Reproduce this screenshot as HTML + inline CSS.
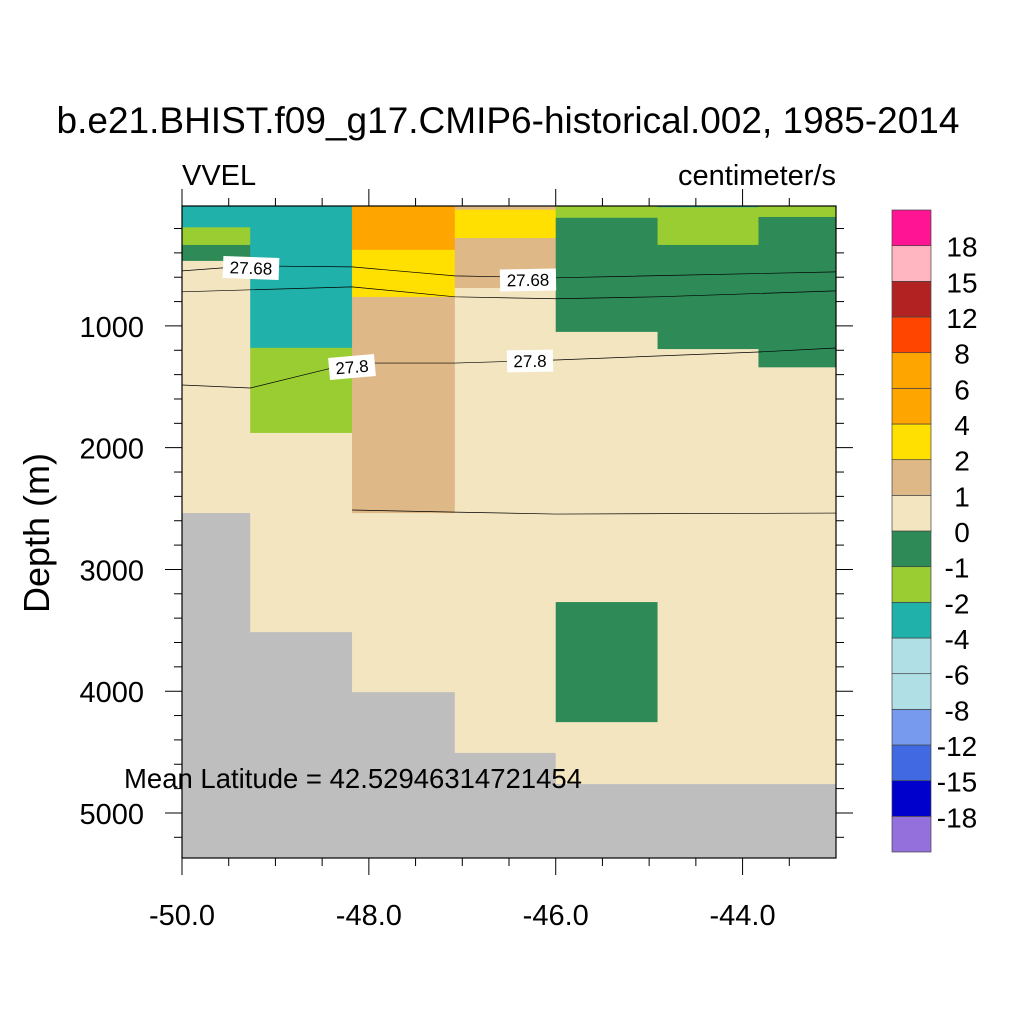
<!DOCTYPE html>
<html><head><meta charset="utf-8"><style>
body{margin:0;background:#fff}
svg text{font-family:"Liberation Sans",sans-serif;fill:#000}
</style></head><body>
<svg id="c" width="1024" height="1024" viewBox="0 0 1024 1024">
<rect width="1024" height="1024" fill="#fff"/>
<text x="508" y="133" font-size="37" text-anchor="middle">b.e21.BHIST.f09_g17.CMIP6-historical.002, 1985-2014</text>
<text x="182" y="185" font-size="29">VVEL</text>
<text x="836" y="185" font-size="29" text-anchor="end">centimeter/s</text>
<g id="cells"></g><g id="contours"></g><g id="axes"></g><g id="cbar"></g>
<text x="0" y="0" font-size="36" text-anchor="middle" transform="translate(49,533) rotate(-90)">Depth (m)</text>
<text x="124" y="788" font-size="27.5">Mean Latitude = 42.52946314721454</text>
</svg>
<script>
const NS='http://www.w3.org/2000/svg';
const colors=['#9370db','#0000cd','#4169e1','#7799ee','#b0dfe6','#b0dfe6','#20b2aa','#9acd32','#2e8b57','#f3e5bf','#deb887','#ffe000','#ffa500','#ffa500','#ff4500','#b22222','#ffb6c1','#ff1493'];
const cbLabels=['-18','-15','-12','-8','-6','-4','-2','-1','0','1','2','4','6','8','12','15','18'];
const colEdges=[-50,-49.27,-48.18,-47.08,-46.0,-44.91,-43.83,-43.0];
// per column: layer bottoms (m) and color index (into colors); -1 = land
const colBottoms=[[190,335,466,2537,5400],[1180,1879,3515,5400],[375,762,2537,4008,5400],[45,278,688,4507,5400],[112,1049,3268,4254,4763,5400],[25,335,1190,4763,5400],[105,1340,4763,5400]];
const colColors=[[6,7,8,9,-1],[6,7,9,-1],[12,11,10,9,-1],[10,11,10,9,-1],[7,8,9,8,9,-1],[6,7,8,9,-1],[7,8,9,-1]];
const contourLevels=['27.68','','27.8',''];
const contourLons=[[-50,-49.27,-48.18,-47.08,-46,-43],[-50,-48.18,-47.08,-46,-44.91,-43],[-50,-49.27,-48.18,-47.08,-46,-43.83,-43],[-48.18,-47.08,-46,-43]];
const contourDepths=[[548,507,515,589,605,556],[720,679,761,777,761,712],[1485,1510,1305,1305,1280,1214,1181],[2512,2529,2545,2537]];
const xTicks=[-50,-48,-46,-44];const xTickLabels=['-50.0','-48.0','-46.0','-44.0'];
const yTicks=[1000,2000,3000,4000,5000];
const X0=182,X1=836,Y0=206,Y1=858;
const lonMin=-50,lonMax=-43,dMin=15,dMax=5370;
const sx=l=>X0+(l-lonMin)/(lonMax-lonMin)*(X1-X0);
const sy=d=>Y0+(d-dMin)/(dMax-dMin)*(Y1-Y0);
function mk(t,a,p){const e=document.createElementNS(NS,t);for(const k in a)e.setAttribute(k,a[k]);(p||document.getElementById('c')).appendChild(e);return e;}
const cells=document.getElementById('cells');
colBottoms.forEach((bs,i)=>{let top=dMin;bs.forEach((b,j)=>{const ci=colColors[i][j];const bb=Math.min(b,dMax);
const r=mk('rect',{x:sx(colEdges[i]),y:sy(top),width:sx(colEdges[i+1])-sx(colEdges[i])+0.5,height:sy(bb)-sy(top)+0.5,fill:ci<0?'#bebebe':colors[ci]},cells);


top=bb;});});
const cg=document.getElementById('contours');
contourLons.forEach((ls,i)=>{const pts=ls.map((l,j)=>sx(l)+','+sy(contourDepths[i][j])).join(' ');
const p=mk('polyline',{points:pts,fill:'none',stroke:'#000','stroke-width':0.7},cg);

});
function lab(txt,x,y,ang){const g=mk('g',{transform:`translate(${x},${y}) rotate(${ang})`},cg);


const w=txt.length*10+6;mk('rect',{x:-w/2,y:-11,width:w,height:22,fill:'#fff'},g);
const t=mk('text',{x:0,y:6,'font-size':17,'text-anchor':'middle'},g);t.textContent=txt;}
lab(contourLevels[0],251,268,2);lab(contourLevels[0],528,280,-1);lab(contourLevels[2],352,367,-5);lab(contourLevels[2],530,361,-1);
const ax=document.getElementById('axes');
const fr=mk('rect',{x:X0,y:Y0,width:X1-X0,height:Y1-Y0,fill:'none',stroke:'#000','stroke-width':1.2},ax);


for(let l=-50;l<=-43.01;l+=0.5){const maj=Math.abs(l%2)<0.01;const x=sx(l);const L=maj?17:8;
mk('line',{x1:x,y1:Y1,x2:x,y2:Y1+L,stroke:'#000'},ax);mk('line',{x1:x,y1:Y0,x2:x,y2:Y0-L,stroke:'#000'},ax);}
xTicks.forEach((v,i)=>{const t=mk('text',{x:sx(v),y:925,'font-size':29,'text-anchor':'middle'},ax);t.textContent=xTickLabels[i];

});
for(let d=200;d<=5370;d+=200){const maj=d%1000===0;const y=sy(d);const L=maj?17:8;
mk('line',{x1:X0,y1:y,x2:X0-L,y2:y,stroke:'#000'},ax);mk('line',{x1:X1,y1:y,x2:X1+L,y2:y,stroke:'#000'},ax);}
yTicks.forEach(v=>{const t=mk('text',{x:144,y:sy(v)+11,'font-size':29,'text-anchor':'end'},ax);t.textContent=v;

});
const cb=document.getElementById('cbar');const cbT=210,cbB=852,cbX=892,cbW=39;const bh=(cbB-cbT)/colors.length;
colors.forEach((c,i)=>{const r=mk('rect',{x:cbX,y:cbB-(i+1)*bh,width:cbW,height:bh,fill:c,stroke:'#444','stroke-width':0.7},cb);

});
cbLabels.forEach((s,i)=>{const t=mk('text',{x:s.startsWith('-')?957:962,y:cbB-(i+1)*bh+11,'font-size':28,'text-anchor':'middle'},cb);t.textContent=s;

});
</script>
</body></html>
